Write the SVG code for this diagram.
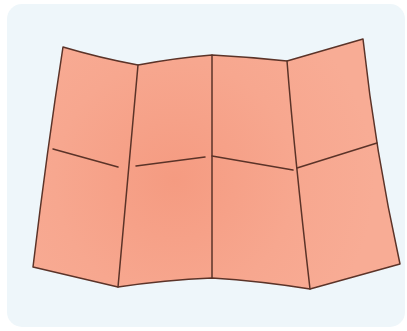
<svg xmlns="http://www.w3.org/2000/svg" width="407" height="331" viewBox="0 0 407 331">
  <defs>
    <radialGradient id="paper" cx="175" cy="180" r="200" gradientUnits="userSpaceOnUse">
      <stop offset="0" stop-color="#f59b81"/>
      <stop offset="0.6" stop-color="#f7a78f"/>
      <stop offset="1" stop-color="#f8ac95"/>
    </radialGradient>
  </defs>
  <style>
    .line { fill: none; stroke: #5b3328; stroke-width: 1.5; stroke-linecap: round; stroke-linejoin: round; }
  </style>
  <rect x="0" y="0" width="407" height="331" fill="#ffffff"/>
  <rect id="card" x="7" y="4" width="398" height="323" rx="15" fill="#eef6fa"/>
  <g id="map">
    <path class="line" style="fill:url(#paper)" d="M63,47 Q100,58 138,65 Q175,58 212,55 Q250,57 287,61 L363,39 Q375,150 400,264 L310,289 Q260,281 212,278 Q165,280 118,287 L33,267 Q47,150 63,47 Z"/>
    <g id="folds">
      <path class="line" d="M138,65 L118,287"/>
      <path class="line" d="M212,55 L212,278"/>
      <path class="line" d="M287,61 Q294,150 310,289"/>
    </g>
    <g id="creases">
      <path class="line" d="M53,149 L118,167"/>
      <path class="line" d="M136,166 L205,157"/>
      <path class="line" d="M212,156 L293,170"/>
      <path class="line" d="M297,168 L377,143"/>
    </g>
  </g>
</svg>
